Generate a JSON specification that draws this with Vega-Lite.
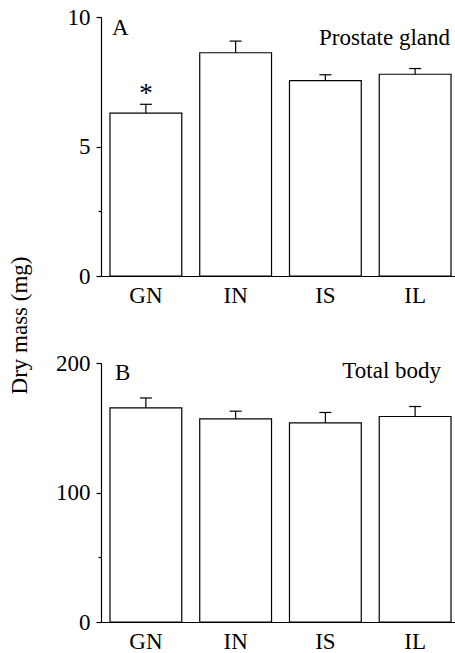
{
  "$schema": "https://vega.github.io/schema/vega-lite/v6.json",
  "padding": {"left": 8, "top": 6, "right": 0, "bottom": 0},
  "background": "white",
  "bounds": "flush",
  "spacing": 87,
  "config": {
    "font": "Liberation Serif",
    "view": {"stroke": null},
    "axis": {
      "domainColor": "black",
      "domainWidth": 1.2,
      "tickColor": "black",
      "tickWidth": 1.2,
      "labelColor": "black",
      "labelFontSize": 23,
      "labelFont": "Liberation Serif",
      "titleFont": "Liberation Serif",
      "titleColor": "black",
      "titleFontSize": 23,
      "titleFontWeight": "normal",
      "grid": false
    }
  },
  "datasets": {
    "prostate": [
      {"group": "GN", "mean": 6.29, "hi": 6.63, "sig": "*"},
      {"group": "IN", "mean": 8.62, "hi": 9.07, "sig": ""},
      {"group": "IS", "mean": 7.54, "hi": 7.77, "sig": ""},
      {"group": "IL", "mean": 7.79, "hi": 8.01, "sig": ""}
    ],
    "body": [
      {"group": "GN", "mean": 165.3, "hi": 173.0},
      {"group": "IN", "mean": 156.9, "hi": 162.8},
      {"group": "IS", "mean": 153.8, "hi": 161.8},
      {"group": "IL", "mean": 158.7, "hi": 166.4}
    ]
  },
  "vconcat": [
    {
      "width": 359,
      "height": 259,
      "data": {"name": "prostate"},
      "layer": [
        {
          "mark": {"type": "bar", "fill": "white", "stroke": "black", "strokeWidth": 1.2},
          "encoding": {
            "x": {"field": "group", "type": "nominal", "sort": ["GN", "IN", "IS", "IL"],
              "scale": {"paddingInner": 0.2, "paddingOuter": 0.1},
              "axis": {"title": null, "labelAngle": 0, "ticks": false, "labelPadding": 8}},
            "y": {"field": "mean", "type": "quantitative",
              "scale": {"domain": [0, 10], "nice": false},
              "axis": {"values": [0, 2.5, 5, 10],
                "labelExpr": "datum.value == 2.5 ? '' : datum.label",
                "tickSize": {"condition": {"test": "datum.value == 2.5", "value": 3}, "value": 5},
                "labelPadding": 6,
                "title": "Dry mass (mg)", "titleY": 308, "titleX": -75, "titleAngle": -90,
                "titleAlign": "center", "titleBaseline": "alphabetic"}}
          }
        },
        {
          "mark": {"type": "rule", "stroke": "black", "strokeWidth": 1.2},
          "encoding": {
            "x": {"field": "group", "type": "nominal", "sort": ["GN", "IN", "IS", "IL"]},
            "y": {"field": "mean", "type": "quantitative", "axis": {"title": "Dry mass (mg)"}},
            "y2": {"field": "hi"}
          }
        },
        {
          "mark": {"type": "tick", "size": 12, "thickness": 1.2, "color": "black", "opacity": 1},
          "encoding": {
            "x": {"field": "group", "type": "nominal", "sort": ["GN", "IN", "IS", "IL"]},
            "y": {"field": "hi", "type": "quantitative", "axis": {"title": "Dry mass (mg)"}}
          }
        },
        {
          "mark": {"type": "text", "fontSize": 27, "baseline": "alphabetic", "dy": -2, "color": "black"},
          "encoding": {
            "x": {"field": "group", "type": "nominal", "sort": ["GN", "IN", "IS", "IL"]},
            "y": {"field": "hi", "type": "quantitative", "axis": {"title": "Dry mass (mg)"}},
            "text": {"field": "sig"}
          }
        },
        {
          "data": {"values": [{"group": "GN", "t": "A"}]},
          "mark": {"type": "text", "fontSize": 23, "align": "left", "baseline": "alphabetic", "dx": 2, "dy": 18, "color": "black"},
          "encoding": {
            "x": {"field": "group", "type": "nominal", "bandPosition": 0, "sort": ["GN", "IN", "IS", "IL"]},
            "y": {"datum": 10, "type": "quantitative", "axis": {"title": "Dry mass (mg)"}},
            "text": {"field": "t"}
          }
        },
        {
          "data": {"values": [{"group": "IL", "t": "Prostate gland"}]},
          "mark": {"type": "text", "fontSize": 23, "align": "right", "baseline": "alphabetic", "dx": -1, "dy": 28, "color": "black"},
          "encoding": {
            "x": {"field": "group", "type": "nominal", "bandPosition": 1, "sort": ["GN", "IN", "IS", "IL"]},
            "y": {"datum": 10, "type": "quantitative", "axis": {"title": "Dry mass (mg)"}},
            "text": {"field": "t"}
          }
        }
      ]
    },
    {
      "width": 359,
      "height": 259,
      "data": {"name": "body"},
      "layer": [
        {
          "mark": {"type": "bar", "fill": "white", "stroke": "black", "strokeWidth": 1.2},
          "encoding": {
            "x": {"field": "group", "type": "nominal", "sort": ["GN", "IN", "IS", "IL"],
              "scale": {"paddingInner": 0.2, "paddingOuter": 0.1},
              "axis": {"title": null, "labelAngle": 0, "ticks": false, "labelPadding": 8}},
            "y": {"field": "mean", "type": "quantitative",
              "scale": {"domain": [0, 200], "nice": false},
              "axis": {"values": [0, 50, 100, 200],
                "labelExpr": "datum.value == 50 ? '' : datum.label",
                "tickSize": {"condition": {"test": "datum.value == 50", "value": 3}, "value": 5},
                "labelPadding": 6,
                "title": null}}
          }
        },
        {
          "mark": {"type": "rule", "stroke": "black", "strokeWidth": 1.2},
          "encoding": {
            "x": {"field": "group", "type": "nominal", "sort": ["GN", "IN", "IS", "IL"]},
            "y": {"field": "mean", "type": "quantitative", "axis": {"title": null}},
            "y2": {"field": "hi"}
          }
        },
        {
          "mark": {"type": "tick", "size": 12, "thickness": 1.2, "color": "black", "opacity": 1},
          "encoding": {
            "x": {"field": "group", "type": "nominal", "sort": ["GN", "IN", "IS", "IL"]},
            "y": {"field": "hi", "type": "quantitative", "axis": {"title": null}}
          }
        },
        {
          "data": {"values": [{"group": "GN", "t": "B"}]},
          "mark": {"type": "text", "fontSize": 23, "align": "left", "baseline": "alphabetic", "dx": 5, "dy": 17, "color": "black"},
          "encoding": {
            "x": {"field": "group", "type": "nominal", "bandPosition": 0, "sort": ["GN", "IN", "IS", "IL"]},
            "y": {"datum": 200, "type": "quantitative", "axis": {"title": null}},
            "text": {"field": "t"}
          }
        },
        {
          "data": {"values": [{"group": "IL", "t": "Total body"}]},
          "mark": {"type": "text", "fontSize": 23, "align": "right", "baseline": "alphabetic", "dx": -10, "dy": 15, "color": "black"},
          "encoding": {
            "x": {"field": "group", "type": "nominal", "bandPosition": 1, "sort": ["GN", "IN", "IS", "IL"]},
            "y": {"datum": 200, "type": "quantitative", "axis": {"title": null}},
            "text": {"field": "t"}
          }
        }
      ]
    }
  ]
}
